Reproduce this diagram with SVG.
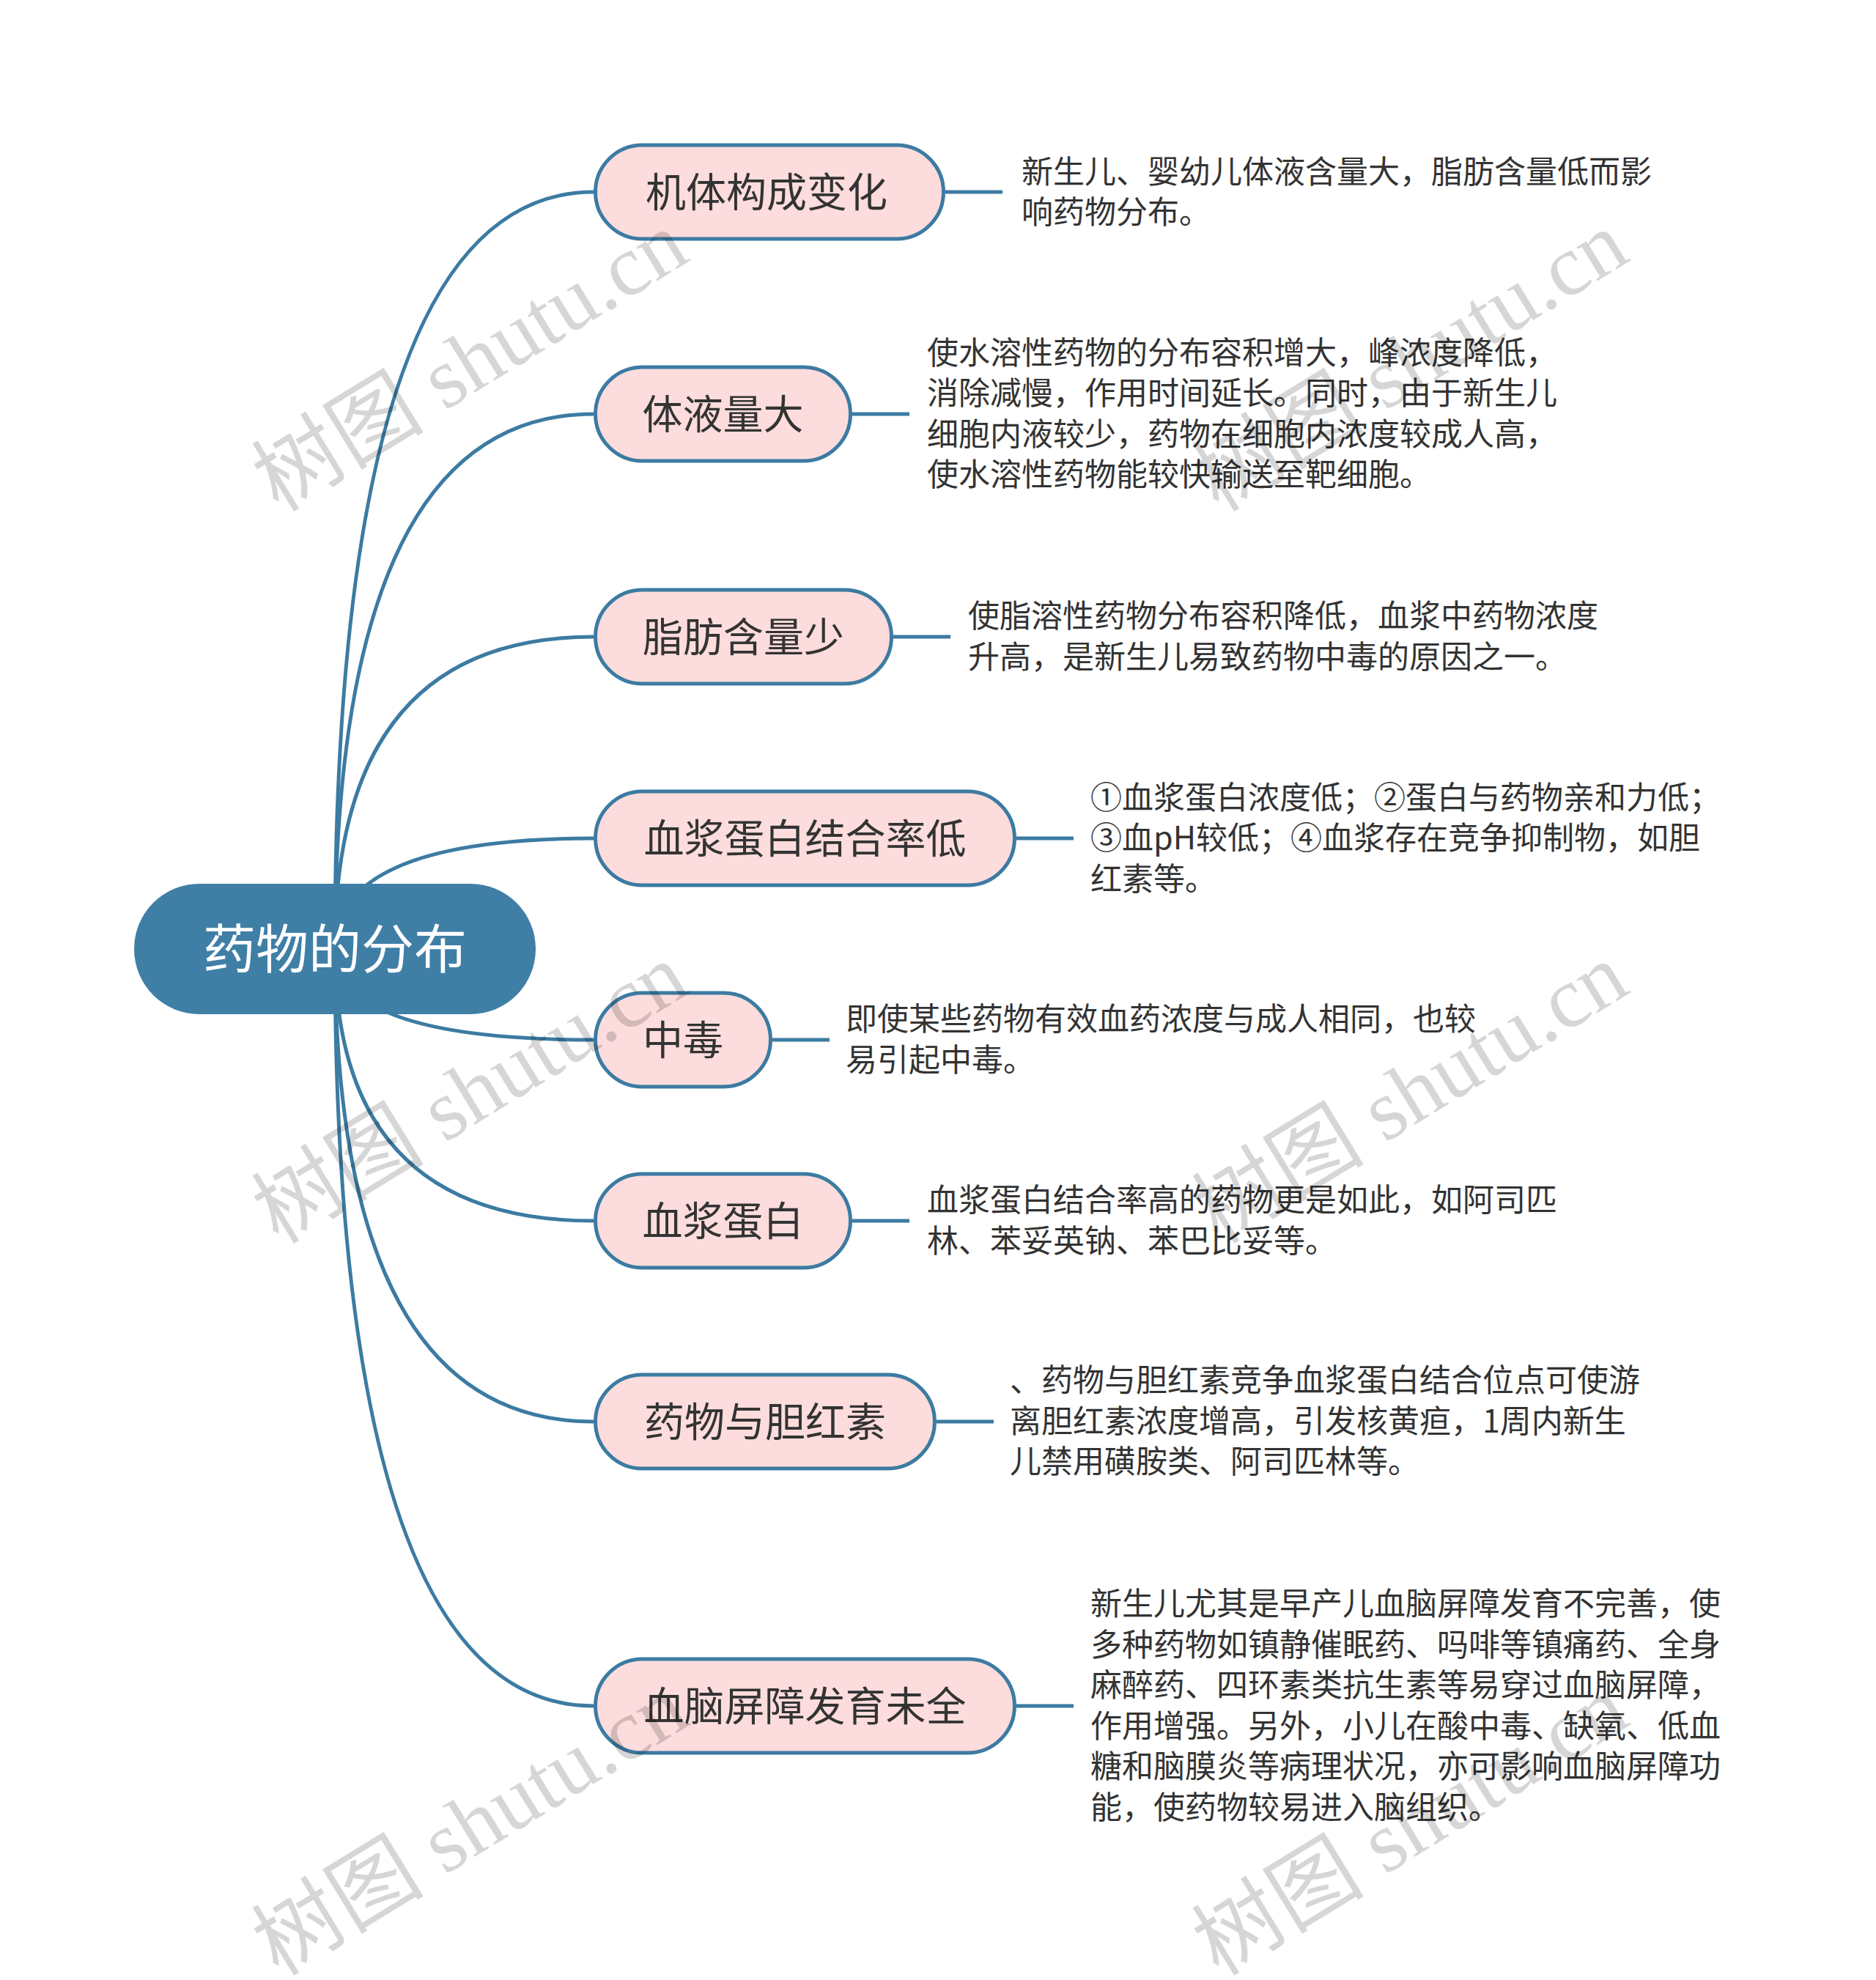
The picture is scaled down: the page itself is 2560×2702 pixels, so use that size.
<svg xmlns="http://www.w3.org/2000/svg" width="2560" height="2702" viewBox="0 0 2560 2702">
<style>
.bg{fill:#ffffff}
.link{fill:none;stroke:#3c7ba2;stroke-width:5}
.node rect{fill:#fcdcdc;stroke:#3c7ba2;stroke-width:5}
.ntext{font-family:"Noto Sans CJK SC","Noto Sans",sans-serif;font-size:55px;fill:#333333;text-anchor:middle}
.dtext{font-family:"Noto Sans CJK SC","Noto Sans",sans-serif;font-size:43px;fill:#333333}
.root rect{fill:#3f7fa6}
.rtext{font-family:"Noto Sans CJK SC","Noto Sans",sans-serif;font-size:72px;fill:#ffffff;text-anchor:middle}
.wm{font-family:"Liberation Serif","Noto Sans CJK SC",serif;font-size:118px;fill:#000000;fill-opacity:0.16}
</style>
<rect class="bg" x="0" y="0" width="2560" height="2702"/>
<g id="connectors">
<path class="link" d="M457 1295 Q457 262 810 262"/>
<path class="link" d="M457 1295 Q457 565 810 565"/>
<path class="link" d="M457 1295 Q457 869 810 869"/>
<path class="link" d="M457 1295 Q457 1144 810 1144"/>
<path class="link" d="M457 1295 Q457 1419 810 1419"/>
<path class="link" d="M457 1295 Q457 1666 810 1666"/>
<path class="link" d="M457 1295 Q457 1940 810 1940"/>
<path class="link" d="M457 1295 Q457 2328 810 2328"/>
<path class="link" d="M1290 262 H1368"/>
<path class="link" d="M1163 565 H1241"/>
<path class="link" d="M1219 869 H1297"/>
<path class="link" d="M1387 1144 H1465"/>
<path class="link" d="M1054 1419 H1132"/>
<path class="link" d="M1163 1666 H1241"/>
<path class="link" d="M1278 1940 H1356"/>
<path class="link" d="M1387 2328 H1465"/>
</g>
<g id="root" class="root">
<rect x="183" y="1206" width="548" height="178" rx="89"/>
<text class="rtext" x="457" y="1321">药物的分布</text>
</g>
<g id="n1" class="node">
<rect x="812.5" y="198" width="475" height="128" rx="64"/>
<text class="ntext" x="1046" y="282">机体构成变化</text>
</g>
<g id="n2" class="node">
<rect x="812.5" y="501" width="348" height="128" rx="64"/>
<text class="ntext" x="986.5" y="585">体液量大</text>
</g>
<g id="n3" class="node">
<rect x="812.5" y="805" width="404" height="128" rx="64"/>
<text class="ntext" x="1014.5" y="889">脂肪含量少</text>
</g>
<g id="n4" class="node">
<rect x="812.5" y="1080" width="572" height="128" rx="64"/>
<text class="ntext" x="1098.5" y="1164">血浆蛋白结合率低</text>
</g>
<g id="n5" class="node">
<rect x="812.5" y="1355" width="239" height="128" rx="64"/>
<text class="ntext" x="932" y="1439">中毒</text>
</g>
<g id="n6" class="node">
<rect x="812.5" y="1602" width="348" height="128" rx="64"/>
<text class="ntext" x="986.5" y="1686">血浆蛋白</text>
</g>
<g id="n7" class="node">
<rect x="812.5" y="1876" width="463" height="128" rx="64"/>
<text class="ntext" x="1044" y="1960">药物与胆红素</text>
</g>
<g id="n8" class="node">
<rect x="812.5" y="2264" width="572" height="128" rx="64"/>
<text class="ntext" x="1098.5" y="2348">血脑屏障发育未全</text>
</g>
<g id="d1" class="dtext">
<text x="1394" y="250">新生儿、婴幼儿体液含量大，脂肪含量低而影</text>
<text x="1394" y="305">响药物分布。</text>
</g>
<g id="d2" class="dtext">
<text x="1265" y="497">使水溶性药物的分布容积增大，峰浓度降低，</text>
<text x="1265" y="552">消除减慢，作用时间延长。同时，由于新生儿</text>
<text x="1265" y="608">细胞内液较少，药物在细胞内浓度较成人高，</text>
<text x="1265" y="663">使水溶性药物能较快输送至靶细胞。</text>
</g>
<g id="d3" class="dtext">
<text x="1321" y="856">使脂溶性药物分布容积降低，血浆中药物浓度</text>
<text x="1321" y="912">升高，是新生儿易致药物中毒的原因之一。</text>
</g>
<g id="d4" class="dtext">
<text x="1488" y="1104">①血浆蛋白浓度低；②蛋白与药物亲和力低；</text>
<text x="1488" y="1159">③血pH较低；④血浆存在竞争抑制物，如胆</text>
<text x="1488" y="1215">红素等。</text>
</g>
<g id="d5" class="dtext">
<text x="1154" y="1406">即使某些药物有效血药浓度与成人相同，也较</text>
<text x="1154" y="1462">易引起中毒。</text>
</g>
<g id="d6" class="dtext">
<text x="1265" y="1653">血浆蛋白结合率高的药物更是如此，如阿司匹</text>
<text x="1265" y="1709">林、苯妥英钠、苯巴比妥等。</text>
</g>
<g id="d7" class="dtext">
<text x="1378" y="1899">、药物与胆红素竞争血浆蛋白结合位点可使游</text>
<text x="1378" y="1955">离胆红素浓度增高，引发核黄疸，1周内新生</text>
<text x="1378" y="2010">儿禁用磺胺类、阿司匹林等。</text>
</g>
<g id="d8" class="dtext">
<text x="1488" y="2204">新生儿尤其是早产儿血脑屏障发育不完善，使</text>
<text x="1488" y="2260">多种药物如镇静催眠药、吗啡等镇痛药、全身</text>
<text x="1488" y="2315">麻醉药、四环素类抗生素等易穿过血脑屏障，</text>
<text x="1488" y="2371">作用增强。另外，小儿在酸中毒、缺氧、低血</text>
<text x="1488" y="2426">糖和脑膜炎等病理状况，亦可影响血脑屏障功</text>
<text x="1488" y="2482">能，使药物较易进入脑组织。</text>
</g>
<g id="watermark" class="wm">
<text transform="translate(380 700) rotate(-31.5)">树图 shutu.cn</text>
<text transform="translate(1663 700) rotate(-31.5)">树图 shutu.cn</text>
<text transform="translate(380 1699) rotate(-31.5)">树图 shutu.cn</text>
<text transform="translate(1663 1699) rotate(-31.5)">树图 shutu.cn</text>
<text transform="translate(380 2698) rotate(-31.5)">树图 shutu.cn</text>
<text transform="translate(1663 2698) rotate(-31.5)">树图 shutu.cn</text>
</g>
</svg>
